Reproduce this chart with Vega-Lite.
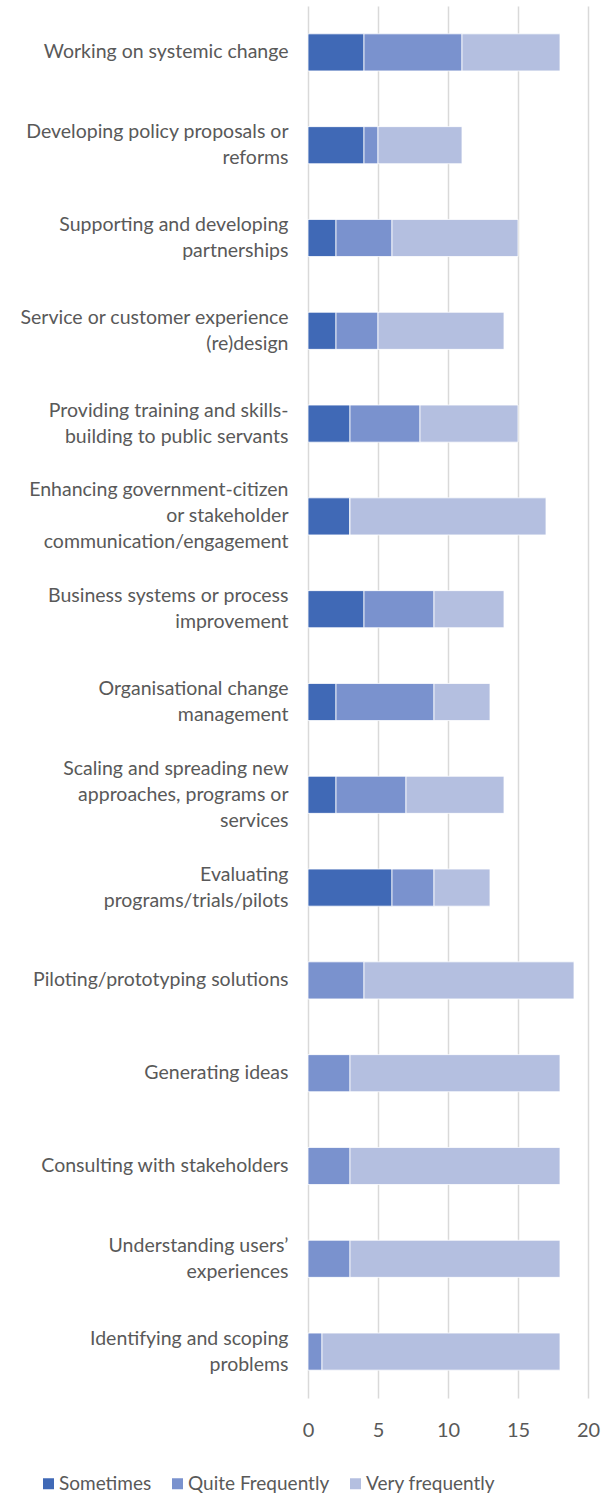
{
  "$schema": "https://vega.github.io/schema/vega-lite/v6.json",
  "autosize": {"type": "none"},
  "width": 280,
  "height": 1392,
  "padding": {"left": 308, "top": 6, "right": 28, "bottom": 99},
  "background": "white",
  "data": {
    "values": [
      {"cat": "Working on systemic change", "resp": "Sometimes", "ord": 1, "n": 4},
      {"cat": "Working on systemic change", "resp": "Quite Frequently", "ord": 2, "n": 7},
      {"cat": "Working on systemic change", "resp": "Very frequently", "ord": 3, "n": 7},
      {"cat": "Developing policy proposals or|reforms", "resp": "Sometimes", "ord": 1, "n": 4},
      {"cat": "Developing policy proposals or|reforms", "resp": "Quite Frequently", "ord": 2, "n": 1},
      {"cat": "Developing policy proposals or|reforms", "resp": "Very frequently", "ord": 3, "n": 6},
      {"cat": "Supporting and developing|partnerships", "resp": "Sometimes", "ord": 1, "n": 2},
      {"cat": "Supporting and developing|partnerships", "resp": "Quite Frequently", "ord": 2, "n": 4},
      {"cat": "Supporting and developing|partnerships", "resp": "Very frequently", "ord": 3, "n": 9},
      {"cat": "Service or customer experience|(re)design", "resp": "Sometimes", "ord": 1, "n": 2},
      {"cat": "Service or customer experience|(re)design", "resp": "Quite Frequently", "ord": 2, "n": 3},
      {"cat": "Service or customer experience|(re)design", "resp": "Very frequently", "ord": 3, "n": 9},
      {"cat": "Providing training and skills-|building to public servants", "resp": "Sometimes", "ord": 1, "n": 3},
      {"cat": "Providing training and skills-|building to public servants", "resp": "Quite Frequently", "ord": 2, "n": 5},
      {"cat": "Providing training and skills-|building to public servants", "resp": "Very frequently", "ord": 3, "n": 7},
      {"cat": "Enhancing government-citizen|or stakeholder|communication/engagement", "resp": "Sometimes", "ord": 1, "n": 3},
      {"cat": "Enhancing government-citizen|or stakeholder|communication/engagement", "resp": "Quite Frequently", "ord": 2, "n": 0},
      {"cat": "Enhancing government-citizen|or stakeholder|communication/engagement", "resp": "Very frequently", "ord": 3, "n": 14},
      {"cat": "Business systems or process|improvement", "resp": "Sometimes", "ord": 1, "n": 4},
      {"cat": "Business systems or process|improvement", "resp": "Quite Frequently", "ord": 2, "n": 5},
      {"cat": "Business systems or process|improvement", "resp": "Very frequently", "ord": 3, "n": 5},
      {"cat": "Organisational change|management", "resp": "Sometimes", "ord": 1, "n": 2},
      {"cat": "Organisational change|management", "resp": "Quite Frequently", "ord": 2, "n": 7},
      {"cat": "Organisational change|management", "resp": "Very frequently", "ord": 3, "n": 4},
      {"cat": "Scaling and spreading new|approaches, programs or|services", "resp": "Sometimes", "ord": 1, "n": 2},
      {"cat": "Scaling and spreading new|approaches, programs or|services", "resp": "Quite Frequently", "ord": 2, "n": 5},
      {"cat": "Scaling and spreading new|approaches, programs or|services", "resp": "Very frequently", "ord": 3, "n": 7},
      {"cat": "Evaluating|programs/trials/pilots", "resp": "Sometimes", "ord": 1, "n": 6},
      {"cat": "Evaluating|programs/trials/pilots", "resp": "Quite Frequently", "ord": 2, "n": 3},
      {"cat": "Evaluating|programs/trials/pilots", "resp": "Very frequently", "ord": 3, "n": 4},
      {"cat": "Piloting/prototyping solutions", "resp": "Sometimes", "ord": 1, "n": 0},
      {"cat": "Piloting/prototyping solutions", "resp": "Quite Frequently", "ord": 2, "n": 4},
      {"cat": "Piloting/prototyping solutions", "resp": "Very frequently", "ord": 3, "n": 15},
      {"cat": "Generating ideas", "resp": "Sometimes", "ord": 1, "n": 0},
      {"cat": "Generating ideas", "resp": "Quite Frequently", "ord": 2, "n": 3},
      {"cat": "Generating ideas", "resp": "Very frequently", "ord": 3, "n": 15},
      {"cat": "Consulting with stakeholders", "resp": "Sometimes", "ord": 1, "n": 0},
      {"cat": "Consulting with stakeholders", "resp": "Quite Frequently", "ord": 2, "n": 3},
      {"cat": "Consulting with stakeholders", "resp": "Very frequently", "ord": 3, "n": 15},
      {"cat": "Understanding users’|experiences", "resp": "Sometimes", "ord": 1, "n": 0},
      {"cat": "Understanding users’|experiences", "resp": "Quite Frequently", "ord": 2, "n": 3},
      {"cat": "Understanding users’|experiences", "resp": "Very frequently", "ord": 3, "n": 15},
      {"cat": "Identifying and scoping|problems", "resp": "Sometimes", "ord": 1, "n": 0},
      {"cat": "Identifying and scoping|problems", "resp": "Quite Frequently", "ord": 2, "n": 1},
      {"cat": "Identifying and scoping|problems", "resp": "Very frequently", "ord": 3, "n": 17}
    ]
  },
  "mark": {"type": "bar", "stroke": "white", "strokeWidth": 0.8},
  "encoding": {
    "y": {
      "field": "cat",
      "type": "nominal",
      "sort": null,
      "scale": {"paddingInner": 0.6, "paddingOuter": 0.3},
      "axis": {
        "title": null,
        "domain": false,
        "ticks": false,
        "labelExpr": "split(datum.label, '|')",
        "labelAlign": "right",
        "labelPadding": 20,
        "labelFont": "Lato",
        "labelFontSize": 19.5,
        "labelColor": "#595959",
        "labelLineHeight": 26,
        "labelLimit": 320,
        "labelOffset": {
          "condition": [
            {"test": "length(split(datum.value, '|')) == 3", "value": -26},
            {"test": "length(split(datum.value, '|')) == 2", "value": -13}
          ],
          "value": 0
        }
      }
    },
    "x": {
      "field": "n",
      "type": "quantitative",
      "stack": "zero",
      "scale": {"domain": [0, 20], "nice": false},
      "axis": {
        "title": null,
        "values": [0, 5, 10, 15, 20],
        "domain": false,
        "ticks": false,
        "grid": true,
        "gridColor": "#d9d9d9",
        "gridWidth": 1.5,
        "labelFlush": false,
        "labelFont": "Lato",
        "labelFontSize": 20,
        "labelColor": "#595959",
        "labelPadding": 22
      }
    },
    "color": {
      "field": "resp",
      "type": "nominal",
      "scale": {
        "domain": ["Sometimes", "Quite Frequently", "Very frequently"],
        "range": ["#4069b6", "#7a92ce", "#b4bfe0"]
      },
      "legend": {
        "title": null,
        "orient": "none",
        "direction": "horizontal",
        "legendX": -269,
        "legendY": 1468,
        "symbolType": "square",
        "symbolSize": 121,
        "symbolStrokeWidth": 0,
        "labelFont": "Lato",
        "labelFontSize": 19,
        "labelColor": "#595959",
        "labelOffset": 1,
        "columnPadding": 16
      }
    },
    "order": {"field": "ord", "type": "quantitative"}
  },
  "config": {"view": {"stroke": null}}
}
